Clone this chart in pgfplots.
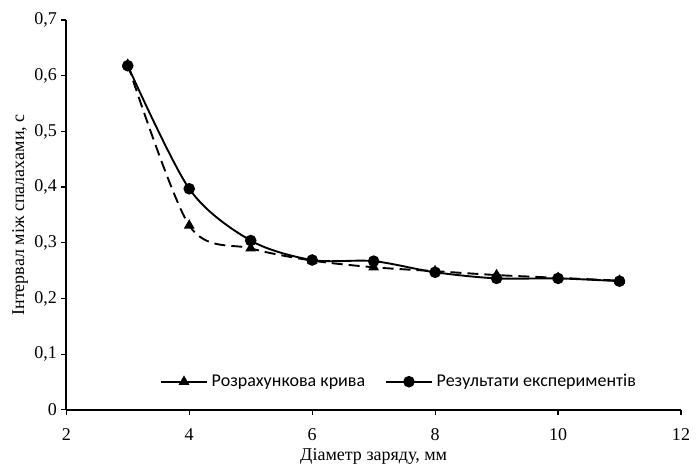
\documentclass[border=0pt]{standalone}
\usepackage{fontspec}
\setmainfont{Liberation Serif}
\newfontfamily\legfont{Carlito}
\usepackage{pgfplots}
\pgfplotsset{compat=1.18}
\begin{document}
\fontsize{9}{11}\selectfont
\begin{tikzpicture}
\begin{axis}[
  width=306bp, height=194bp, scale only axis,
  xmin=2, xmax=12, ymin=0, ymax=0.7,
  xtick={2,4,...,12}, ytick={0,0.1,...,0.7},
  axis lines*=left,
  axis line style={line width=0.9pt},
  tick style={black, line width=0.6pt},
  tick align=outside, major tick length=2.5pt,
  /pgf/number format/.cd, use comma, fixed, precision=1, assume math mode=true,
  /pgfplots/.cd,
  ticklabel style={font=\fontsize{9}{11}\selectfont},
  yticklabel style={xshift=1pt},
  xticklabel style={yshift=-3.5bp},
  xlabel={Діаметр заряду, мм},
  ylabel={Інтервал між спалахами, с},
  xlabel style={font=\fontsize{9}{11}\selectfont, at={(axis description cs:0.5,-0.12)}, anchor=center, inner sep=0pt},
  ylabel style={font=\fontsize{9}{11}\selectfont, at={(axis description cs:-0.075,0.5)}, anchor=center, inner sep=0pt},
  legend style={draw=none, fill=none, at={(0.543,0.072)}, anchor=center,
    legend columns=2, font=\legfont\fontsize{9}{10}\selectfont,
    /tikz/every even column/.append style={column sep=8pt}},
  legend cell align=left,
  legend image code/.code={\draw[mark repeat=2,mark phase=2,#1] plot coordinates {(0cm,0cm) (0.4cm,0cm) (0.8cm,0cm)};},
  legend image post style={solid},
]
\addplot[black, line width=0.95pt, dash pattern=on 5.5pt off 3pt, smooth, tension=0.5,
  mark=triangle*, mark size=2.2pt, mark options={solid}]
  coordinates {(3,0.620) (4,0.331) (5,0.290) (6,0.268) (7,0.256) (8,0.249) (9,0.242) (10,0.237) (11,0.232)};
\addlegendentry{Розрахункова крива}
\addplot[black, line width=0.95pt, smooth, tension=0.5,
  mark=*, mark size=2.4pt]
  coordinates {(3,0.618) (4,0.397) (5,0.304) (6,0.269) (7,0.267) (8,0.247) (9,0.236) (10,0.236) (11,0.231)};
\addlegendentry{Результати експериментів}
\end{axis}
\path ([xshift=-33bp,yshift=-28.5bp]current axis.south west) rectangle ([xshift=6.5bp,yshift=10bp]current axis.north east);
\end{tikzpicture}
\end{document}
